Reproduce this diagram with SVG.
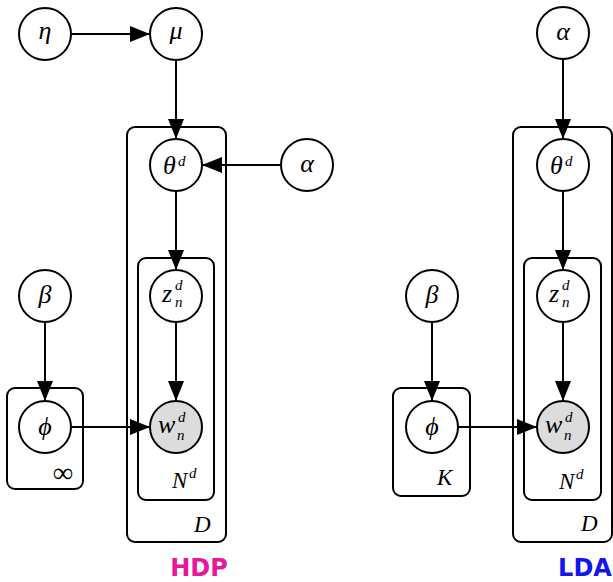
<svg xmlns="http://www.w3.org/2000/svg" width="613" height="582" viewBox="0 0 613 582">
  <style>
    .node circle { fill: #ffffff; stroke: #000; stroke-width: 2; }
    .node.obs circle { fill: #dcdcdc; }
    .plate rect { fill: none; stroke: #000; stroke-width: 2; }
    .edge { stroke: #000; stroke-width: 2; fill: none; marker-end: url(#arrow); }
    text { font-family: "Liberation Serif", "DejaVu Serif", serif; font-style: italic; }
    .g { font-size: 26px; text-anchor: middle; }
    .v { font-size: 26px; }
    .s { font-size: 15px; }
    .pl { font-size: 23px; }
    .title { font-family: "DejaVu Sans", "Liberation Sans", sans-serif; font-style: normal; font-weight: bold; font-size: 24px; text-anchor: middle; }
  </style>
  <defs>
    <marker id="arrow" markerWidth="10" markerHeight="8" refX="10" refY="4" orient="auto" markerUnits="strokeWidth">
      <path d="M0,0 L10,4 L0,8 z" fill="#000"/>
    </marker>
  </defs>

  <!-- HDP plates -->
  <g id="hdp-plates" class="plate">
    <rect x="127" y="127" width="99" height="415" rx="8"/>
    <rect x="138" y="258" width="76" height="242" rx="8"/>
    <rect x="7" y="388" width="76" height="101" rx="8"/>
  </g>
  <!-- LDA plates -->
  <g id="lda-plates" class="plate">
    <rect x="513" y="127" width="99" height="415" rx="8"/>
    <rect x="524" y="258" width="77" height="242" rx="8"/>
    <rect x="393" y="388" width="77" height="108" rx="8"/>
  </g>

  <!-- connectors -->
  <g id="edges">
    <line class="edge" x1="72" y1="34" x2="150" y2="34"/>
    <line class="edge" x1="176" y1="61" x2="176" y2="139"/>
    <line class="edge" x1="280" y1="165" x2="202" y2="165"/>
    <line class="edge" x1="176" y1="192" x2="176" y2="270"/>
    <line class="edge" x1="176" y1="323" x2="176" y2="401"/>
    <line class="edge" x1="45" y1="322" x2="45" y2="401"/>
    <line class="edge" x1="72" y1="427" x2="150" y2="427"/>

    <line class="edge" x1="563" y1="60" x2="563" y2="139"/>
    <line class="edge" x1="563" y1="192" x2="563" y2="270"/>
    <line class="edge" x1="563" y1="323" x2="563" y2="401"/>
    <line class="edge" x1="432" y1="323" x2="432" y2="401"/>
    <line class="edge" x1="459" y1="427" x2="537" y2="427"/>
  </g>

  <!-- HDP nodes -->
  <g id="hdp-eta" class="node"><circle cx="45" cy="34" r="26"/><text class="g" x="45" y="39">η</text></g>
  <g id="hdp-mu" class="node"><circle cx="176" cy="34" r="26"/><text class="g" x="176" y="39">μ</text></g>
  <g id="hdp-theta" class="node"><circle cx="176" cy="165" r="26"/><text class="v" x="163" y="174">θ</text><text class="s" x="178" y="166">d</text></g>
  <g id="hdp-alpha" class="node"><circle cx="307" cy="165" r="26"/><text class="g" x="307" y="172">α</text></g>
  <g id="hdp-z" class="node"><circle cx="176" cy="296" r="26"/><text class="v" x="162" y="302">z</text><text class="s" x="175" y="290">d</text><text class="s" x="175" y="307">n</text></g>
  <g id="hdp-beta" class="node"><circle cx="45" cy="296" r="26"/><text class="g" x="45" y="303">β</text></g>
  <g id="hdp-phi" class="node"><circle cx="45" cy="427" r="26"/><text class="g" x="45" y="435">ϕ</text></g>
  <g id="hdp-w" class="node obs"><circle cx="176" cy="427" r="26"/><text class="v" x="158" y="433">w</text><text class="s" x="178" y="422">d</text><text class="s" x="177" y="440">n</text></g>
  <g id="hdp-labels">
    <text x="73" y="482" font-family="DejaVu Serif, serif" font-style="normal" font-size="28" text-anchor="end">∞</text>
    <text class="pl" x="172" y="488">N</text><text class="s" x="189" y="478">d</text>
    <text class="pl" x="194" y="532">D</text>
    <text class="title" x="199" y="576" fill="#e6199b">HDP</text>
  </g>

  <!-- LDA nodes -->
  <g id="lda-alpha" class="node"><circle cx="563" cy="33" r="26"/><text class="g" x="563" y="40">α</text></g>
  <g id="lda-theta" class="node"><circle cx="563" cy="165" r="26"/><text class="v" x="550" y="174">θ</text><text class="s" x="565" y="166">d</text></g>
  <g id="lda-z" class="node"><circle cx="563" cy="296" r="26"/><text class="v" x="549" y="302">z</text><text class="s" x="562" y="290">d</text><text class="s" x="562" y="307">n</text></g>
  <g id="lda-beta" class="node"><circle cx="432" cy="296" r="26"/><text class="g" x="432" y="303">β</text></g>
  <g id="lda-phi" class="node"><circle cx="432" cy="427" r="26"/><text class="g" x="432" y="435">ϕ</text></g>
  <g id="lda-w" class="node obs"><circle cx="563" cy="427" r="26"/><text class="v" x="545" y="433">w</text><text class="s" x="565" y="422">d</text><text class="s" x="564" y="440">n</text></g>
  <g id="lda-labels">
    <text class="pl" x="437" y="485">K</text>
    <text class="pl" x="559" y="489">N</text><text class="s" x="576" y="479">d</text>
    <text class="pl" x="581" y="531">D</text>
    <text class="title" x="585" y="576" fill="#1515ee">LDA</text>
  </g>
</svg>
